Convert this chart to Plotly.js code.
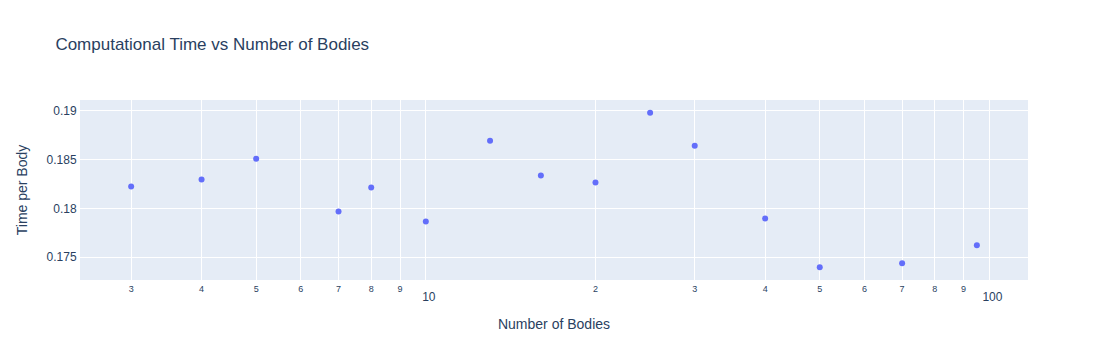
<!DOCTYPE html>
<html>
<head>
<meta charset="utf-8">
<script src="https://cdn.plot.ly/plotly-3.0.1.min.js"></script>
<style>html,body{margin:0;padding:0;}#chart{width:1108px;height:360px;}</style>
</head>
<body>
<div id="chart"></div>
<script>
var numBodies = [3, 4, 5, 7, 8, 10, 13, 16, 20, 25, 30, 40, 50, 70, 95];
var timePerBody = [0.18224, 0.18296, 0.18510, 0.17969, 0.18214, 0.17867, 0.18694, 0.18337, 0.18265, 0.18980, 0.18643, 0.17898, 0.17398, 0.17439, 0.17622];

Plotly.newPlot('chart', [{
  x: numBodies,
  y: timePerBody,
  type: 'scatter',
  mode: 'markers',
  marker: {color: '#636efa'}
}], {
  width: 1108,
  height: 360,
  font: {family: '"Liberation Sans", Arial, sans-serif', color: '#2a3f5f'},
  paper_bgcolor: 'white',
  plot_bgcolor: '#E5ECF6',
  title: {text: 'Computational Time vs Number of Bodies', x: 0.05},
  xaxis: {type: 'log', title: {text: 'Number of Bodies', standoff: 15}, gridcolor: 'white', linecolor: 'white', zerolinecolor: 'white', zerolinewidth: 2, ticks: '', automargin: true},
  yaxis: {title: {text: 'Time per Body', standoff: 15}, gridcolor: 'white', linecolor: 'white', zerolinecolor: 'white', zerolinewidth: 2, ticks: '', automargin: true}
}, {displayModeBar: false});
</script>
</body>
</html>
